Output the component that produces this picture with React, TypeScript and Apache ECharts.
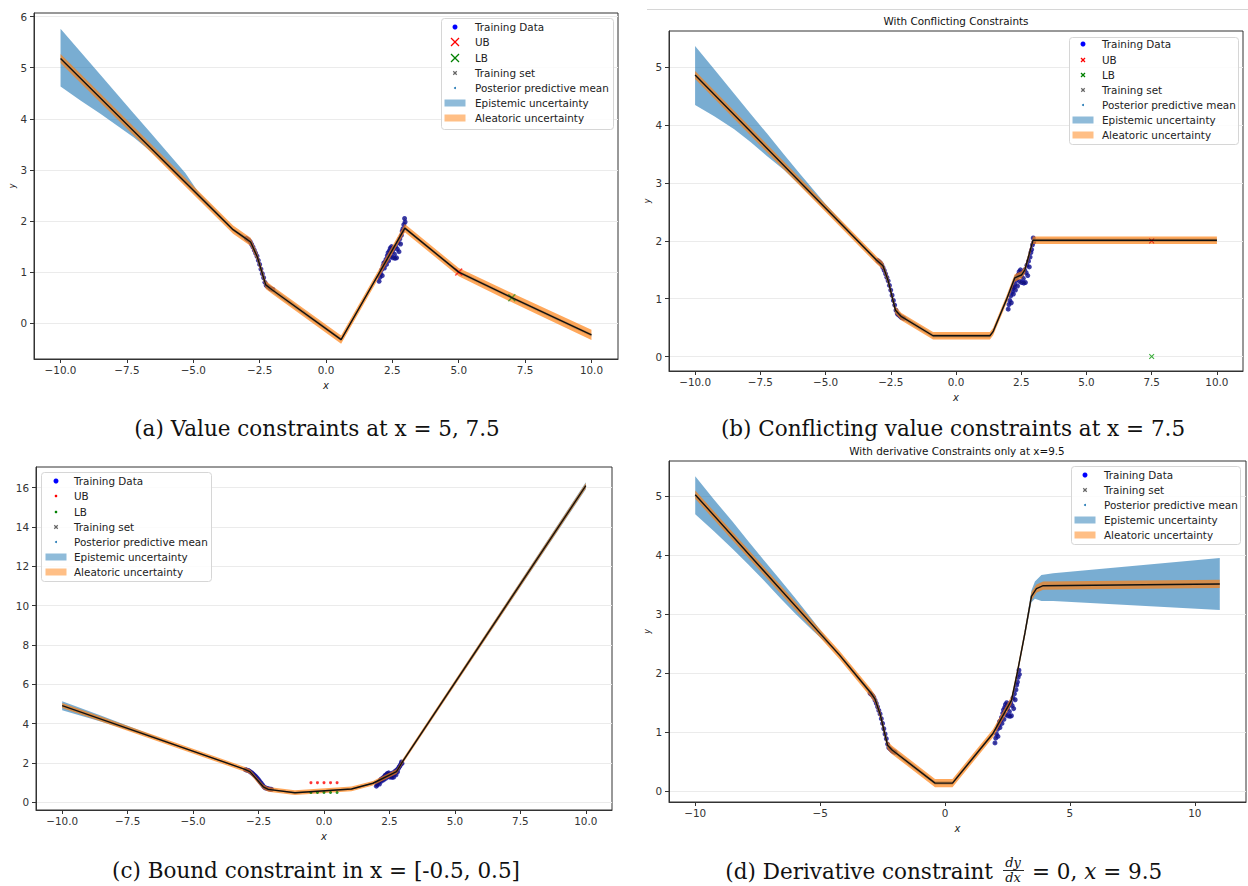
import React, { useEffect, useRef } from 'react';
import * as echarts from 'echarts';

// ---------------- data ----------------
// shared training data
const trainX = [-3.0, -2.95, -2.9, -2.85, -2.8, -2.75, -2.7, -2.65, -2.6, -2.55, -2.5, -2.45, -2.4, -2.35, -2.3, -2.25, -2.2, -2.15, -2.1, -2.05, -2.0,
  2.0, 2.03, 2.06, 2.1, 2.12, 2.15, 2.18, 2.2, 2.23, 2.26, 2.28, 2.31, 2.34, 2.36, 2.39, 2.42, 2.44, 2.47, 2.5, 2.52, 2.55, 2.58, 2.6, 2.63, 2.66, 2.69, 2.72, 2.75, 2.78, 2.81, 2.84, 2.87, 2.9, 2.93, 2.96, 2.98];
const trainY = [1.66, 1.64, 1.62, 1.59, 1.54, 1.49, 1.43, 1.37, 1.31, 1.23, 1.15, 1.06, 0.97, 0.89, 0.8, 0.74, 0.72, 0.7, 0.68, 0.67, 0.66,
  0.82, 0.9, 0.97, 1.05, 0.93, 1.12, 1.18, 1.08, 1.2, 1.25, 1.15, 1.32, 1.38, 1.22, 1.42, 1.47, 1.3, 1.5, 1.4, 1.28, 1.45, 1.35, 1.27, 1.5, 1.28, 1.45, 1.58, 1.4, 1.65, 1.55, 1.72, 1.8, 1.85, 1.93, 2.05, 1.98];

// (a) value constraints
const meanA = [[-10, 5.18], [-3.5, 1.83], [-3.03, 1.66], [-2.84, 1.59], [-2.59, 1.3], [-2.27, 0.75], [-2.02, 0.65], [0.57, -0.32], [2.97, 1.86], [5.0, 1.0], [7.0, 0.5], [10, -0.23]];
const aleaHalfA = [0.09, 0.08, 0.08, 0.08, 0.08, 0.08, 0.08, 0.08, 0.08, 0.08, 0.09, 0.1];
const epiA = [[-10, 4.63, 5.76], [-9.25, 4.36, 5.31], [-8.5, 4.1, 4.86], [-7.875, 3.87, 4.485], [-7.25, 3.64, 4.11], [-6.6, 3.36, 3.72], [-6.0, 3.07, 3.36], [-5.3, 2.72, 2.94], [-4.8, 2.46, 2.56], [-4.0, 2.06, 2.13], [-3.5, 1.8, 1.86], [-3.03, 1.62, 1.7], [-2.84, 1.54, 1.64], [-2.59, 1.24, 1.36], [-2.27, 0.7, 0.8], [-2.02, 0.6, 0.7], [0.57, -0.35, -0.29], [2.97, 1.83, 1.89], [5, 0.97, 1.03], [7, 0.47, 0.53], [10, -0.26, -0.2]];
const ubA = [[5.0, 1.0]];
const lbA = [[7.0, 0.5]];

// (b) conflicting constraints
const meanB = [[-10, 4.87], [-3.05, 1.67], [-2.8, 1.57], [-2.6, 1.31], [-2.32, 0.8], [-2.09, 0.69], [-0.88, 0.36], [1.3, 0.36], [1.42, 0.43], [1.93, 0.98], [2.25, 1.36], [2.51, 1.41], [2.64, 1.5], [2.95, 2.01], [10, 2.01]];
const aleaHalfB = [0.07, 0.065, 0.065, 0.065, 0.065, 0.065, 0.065, 0.065, 0.065, 0.065, 0.065, 0.065, 0.065, 0.065, 0.065];
const epiB = [[-10, 4.35, 5.37], [-9.25, 4.15, 4.96], [-8.5, 3.93, 4.545], [-7.875, 3.71, 4.2], [-7.25, 3.47, 3.86], [-6.6, 3.23, 3.5], [-6, 2.97, 3.17], [-5, 2.53, 2.64], [-4, 2.08, 2.14], [-3.05, 1.64, 1.7], [-2.8, 1.53, 1.61], [-2.6, 1.26, 1.36], [-2.32, 0.76, 0.84], [-2.09, 0.65, 0.73], [-0.88, 0.33, 0.39], [1.3, 0.33, 0.39], [1.42, 0.4, 0.46], [1.93, 0.95, 1.01], [2.25, 1.32, 1.4], [2.51, 1.37, 1.45], [2.64, 1.46, 1.54], [2.95, 1.98, 2.04], [10, 1.98, 2.04]];
const ubB = [[7.5, 2.0]];
const lbB = [[7.5, 0.0]];

// (c) bound constraint
const meanC = [[-10, 4.92], [-3.02, 1.68], [-2.83, 1.56], [-2.32, 0.79], [-2.13, 0.66], [-1.11, 0.49], [1.05, 0.68], [1.87, 0.97], [2.77, 1.56], [3.0, 2.07], [10, 16.1]];
const aleaHalfC = [0.13, 0.12, 0.12, 0.12, 0.12, 0.12, 0.12, 0.12, 0.12, 0.12, 0.14];
const epiC = [[-10, 4.68, 5.14], [-8.5, 4.1, 4.4], [-7, 3.48, 3.64], [-5.5, 2.79, 2.87], [-3.02, 1.65, 1.71], [-2.83, 1.52, 1.6], [-2.32, 0.75, 0.83], [-2.13, 0.62, 0.7], [-1.11, 0.45, 0.53], [1.05, 0.64, 0.72], [1.87, 0.93, 1.01], [2.77, 1.52, 1.6], [3.0, 2.0, 2.14], [10, 15.92, 16.28]];
const ubC = [[-0.5, 1.0], [-0.25, 1.0], [0, 1.0], [0.25, 1.0], [0.5, 1.0]];
const lbC = [[-0.5, 0.5], [-0.25, 0.5], [0, 0.5], [0.25, 0.5], [0.5, 0.5]];

// (d) derivative constraint
const meanD = [[-10, 5.02], [-4.23, 2.31], [-2.96, 1.66], [-2.8, 1.56], [-2.6, 1.31], [-2.3, 0.78], [-2.12, 0.7], [-0.4, 0.14], [0.3, 0.14], [1.92, 0.98], [2.66, 1.54], [2.9, 2.02], [3.2, 2.68], [3.46, 3.3], [3.66, 3.43], [3.93, 3.48], [11, 3.51]];
const aleaHalfD = [0.07, 0.07, 0.07, 0.07, 0.07, 0.07, 0.07, 0.07, 0.07, 0.07, 0.07, 0.07, 0.07, 0.07, 0.07, 0.07, 0.07];
const epiD = [[-10, 4.69, 5.33], [-9.25, 4.4, 4.94], [-8.5, 4.1, 4.56], [-7.875, 3.84, 4.23], [-7.25, 3.57, 3.91], [-6.6, 3.27, 3.58], [-6, 3.01, 3.27], [-5.3, 2.72, 2.9], [-4.6, 2.45, 2.51], [-4.23, 2.28, 2.34], [-2.96, 1.62, 1.7], [-2.8, 1.51, 1.61], [-2.6, 1.26, 1.36], [-2.3, 0.74, 0.82], [-2.12, 0.66, 0.74], [-0.4, 0.11, 0.17], [0.3, 0.11, 0.17], [1.92, 0.95, 1.01], [2.66, 1.51, 1.57], [2.9, 1.98, 2.06], [3.2, 2.62, 2.74], [3.46, 3.2, 3.4], [3.6, 3.26, 3.55], [3.86, 3.22, 3.66], [4.33, 3.22, 3.69], [11, 3.07, 3.95]];

// tick labels
const xTicksABC = [-10, -7.5, -5, -2.5, 0, 2.5, 5, 7.5, 10];
const xTicksD = [-10, -5, 0, 5, 10];
const yTicksA = [0, 1, 2, 3, 4, 5, 6];
const yTicksB = [0, 1, 2, 3, 4, 5];
const yTicksC = [0, 2, 4, 6, 8, 10, 12, 14, 16];
const yTicksD = [0, 1, 2, 3, 4, 5];

// ---------------- styling / helpers ----------------
const FONT = 'DejaVu Sans';
const SERIF = 'DejaVu Serif';
const EPI = 'rgba(31,119,180,0.6)';
const ALEA = 'rgba(255,127,14,0.68)';
const EPI_LEG = 'rgba(31,119,180,0.5)';
const ALEA_LEG = 'rgba(255,127,14,0.5)';
const CROSS = 'path://M0,1.3L1.3,0L5,3.7L8.7,0L10,1.3L6.3,5L10,8.7L8.7,10L5,6.3L1.3,10L0,8.7L3.7,5Z';

const minus = (s: string) => s.replace('-', '\u2212');
const fmt1 = (v: number) => minus(v.toFixed(1));
const fmt0 = (v: number) => minus(String(Math.round(v)));

const trainPts = trainX.map((x, i) => [x, trainY[i]]);
const mkAlea = (mean: number[][], half: number[]) => mean.map((p, i) => [p[0], p[1] - half[i], p[1] + half[i]]);

function bandSeries(gi: number, rows: number[][], color: string, name: string, z: number) {
  return {
    type: 'custom', name, xAxisIndex: gi, yAxisIndex: gi, coordinateSystem: 'cartesian2d',
    data: rows, encode: { x: 0, y: [1, 2] }, clip: true, silent: true, z,
    itemStyle: { color },
    renderItem: (params: any, api: any) => {
      if (params.dataIndex !== 0) return null;
      const pts: number[][] = [];
      for (const r of rows) pts.push(api.coord([r[0], r[2]]));
      for (let i = rows.length - 1; i >= 0; i--) pts.push(api.coord([rows[i][0], rows[i][1]]));
      return { type: 'polygon', shape: { points: pts }, style: { fill: color, stroke: 'none' } };
    },
  };
}

function panelSeries(gi: number, mean: number[][], half: number[], epi: number[][], ub: number[][] | null, lb: number[][] | null, ubStyle: any, lbStyle: any) {
  const s: any[] = [
    { type: 'scatter', name: 'Training Data', xAxisIndex: gi, yAxisIndex: gi, data: trainPts, symbol: 'circle', symbolSize: 5, itemStyle: { color: '#10109a' }, z: 1, silent: true },
    { type: 'scatter', name: 'Training set', xAxisIndex: gi, yAxisIndex: gi, data: trainPts, symbol: CROSS, symbolSize: 3, itemStyle: { color: 'rgba(20,20,60,0.5)' }, z: 1, silent: true },
    bandSeries(gi, epi, EPI, 'Epistemic uncertainty', 2),
    bandSeries(gi, mkAlea(mean, half), ALEA, 'Aleatoric uncertainty', 3),
  ];
  if (ub) s.push({ type: 'scatter', name: 'UB', xAxisIndex: gi, yAxisIndex: gi, data: ub, z: 4, silent: true, ...ubStyle });
  if (lb) s.push({ type: 'scatter', name: 'LB', xAxisIndex: gi, yAxisIndex: gi, data: lb, z: 4, silent: true, ...lbStyle });
  s.push({ type: 'line', name: 'Posterior predictive mean', xAxisIndex: gi, yAxisIndex: gi, data: mean, symbol: 'none', showSymbol: false, lineStyle: { color: '#111', width: 1.4 }, z: 5, silent: true });
  return s;
}

function xAxisCfg(gi: number, min: number, max: number, ticks: number[], f: (v: number) => string) {
  return {
    type: 'value', gridIndex: gi, min, max,
    axisLine: { show: true, onZero: false, lineStyle: { color: '#333', width: 1 } },
    axisTick: { show: true, customValues: ticks, length: 4, lineStyle: { color: '#333', width: 1 } },
    axisLabel: { customValues: ticks, formatter: f, fontSize: 10.4, fontFamily: FONT, color: '#333', margin: 6 },
    splitLine: { show: false },
    name: 'x', nameLocation: 'middle', nameGap: 21,
    nameTextStyle: { fontSize: 10, fontStyle: 'italic', fontFamily: FONT, color: '#222' },
  };
}

function yAxisCfg(gi: number, min: number, max: number, ticks: number[], showName: boolean, gap: number) {
  return {
    type: 'value', gridIndex: gi, min, max,
    axisLine: { show: true, onZero: false, lineStyle: { color: '#333', width: 1 } },
    axisTick: { show: true, customValues: ticks, length: 4, lineStyle: { color: '#333', width: 1 } },
    axisLabel: { customValues: ticks, formatter: fmt0, fontSize: 10.4, fontFamily: FONT, color: '#333', margin: 7 },
    splitLine: { show: true, lineStyle: { color: '#ebebeb', width: 1 } },
    name: showName ? 'y' : '', nameLocation: 'middle', nameGap: gap, nameRotate: 90,
    nameTextStyle: { fontSize: 8, fontStyle: 'italic', fontFamily: FONT, color: '#222' },
  };
}

type LegItem = { label: string; icon: 'dot' | 'cross' | 'patch'; color: string; size: number };

function legend(bx: number, by: number, bw: number, bh: number, rows: number[], iconX: number, textX: number, items: LegItem[]) {
  const ch: any[] = [
    { type: 'rect', shape: { x: bx + 0.5, y: by + 0.5, width: bw, height: bh, r: 3 }, style: { fill: 'rgba(255,255,255,0.85)', stroke: '#d6d6d6', lineWidth: 1 }, z: 100 },
  ];
  items.forEach((it, i) => {
    const cy = rows[i];
    if (it.icon === 'dot') {
      ch.push({ type: 'circle', shape: { cx: iconX, cy, r: it.size }, style: { fill: it.color }, z: 101 });
    } else if (it.icon === 'cross') {
      const s = it.size / 2;
      ch.push({ type: 'line', shape: { x1: iconX - s, y1: cy - s, x2: iconX + s, y2: cy + s }, style: { stroke: it.color, lineWidth: 1.3 }, z: 101 });
      ch.push({ type: 'line', shape: { x1: iconX - s, y1: cy + s, x2: iconX + s, y2: cy - s }, style: { stroke: it.color, lineWidth: 1.3 }, z: 101 });
    } else {
      ch.push({ type: 'rect', shape: { x: iconX - 10.5, y: cy - 3.5, width: 21, height: 7 }, style: { fill: it.color }, z: 101 });
    }
    ch.push({ type: 'text', x: textX, y: cy, z: 101, style: { text: it.label, fill: '#222', fontSize: 10.4, fontFamily: FONT, align: 'left', verticalAlign: 'middle', textAlign: 'left', textVerticalAlign: 'middle' } });
  });
  return ch;
}

function txt(x: number, y: number, text: string, size: number, family: string, align = 'center', extra: any = {}) {
  return { type: 'text', x, y, z: 100, style: { text, fill: '#111', fontSize: size, fontFamily: family, align, verticalAlign: 'middle', textAlign: align, textVerticalAlign: 'middle', ...extra } };
}

export default function App() {
  const ref = useRef<HTMLDivElement>(null);
  useEffect(() => {
    if (!ref.current) return;
    const chart = echarts.init(ref.current, null, { renderer: 'svg' });

    const grids = [
      { left: 34, top: 13, width: 584, height: 346 },
      { left: 669, top: 31, width: 574, height: 340 },
      { left: 36, top: 467, width: 576, height: 343 },
      { left: 669, top: 461, width: 577, height: 341 },
    ].map(g => ({ ...g, show: true, borderColor: '#333', borderWidth: 1, backgroundColor: '#fff', containLabel: false, outerBoundsMode: 'none' }));

    const legA: LegItem[] = [
      { label: 'Training Data', icon: 'dot', color: '#0000ff', size: 2.5 },
      { label: 'UB', icon: 'cross', color: '#ff0000', size: 8 },
      { label: 'LB', icon: 'cross', color: '#008000', size: 8 },
      { label: 'Training set', icon: 'cross', color: '#666', size: 3.5 },
      { label: 'Posterior predictive mean', icon: 'dot', color: '#1f77b4', size: 1 },
      { label: 'Epistemic uncertainty', icon: 'patch', color: EPI_LEG, size: 0 },
      { label: 'Aleatoric uncertainty', icon: 'patch', color: ALEA_LEG, size: 0 },
    ];
    const legB: LegItem[] = [
      { label: 'Training Data', icon: 'dot', color: '#0000ff', size: 2.5 },
      { label: 'UB', icon: 'cross', color: '#ff0000', size: 4 },
      { label: 'LB', icon: 'cross', color: '#008000', size: 4 },
      { label: 'Training set', icon: 'cross', color: '#666', size: 3.5 },
      { label: 'Posterior predictive mean', icon: 'dot', color: '#1f77b4', size: 1 },
      { label: 'Epistemic uncertainty', icon: 'patch', color: EPI_LEG, size: 0 },
      { label: 'Aleatoric uncertainty', icon: 'patch', color: ALEA_LEG, size: 0 },
    ];
    const legC: LegItem[] = [
      { label: 'Training Data', icon: 'dot', color: '#0000ff', size: 2.5 },
      { label: 'UB', icon: 'dot', color: '#ff0000', size: 1.3 },
      { label: 'LB', icon: 'dot', color: '#008000', size: 1.3 },
      { label: 'Training set', icon: 'cross', color: '#666', size: 3.5 },
      { label: 'Posterior predictive mean', icon: 'dot', color: '#1f77b4', size: 1 },
      { label: 'Epistemic uncertainty', icon: 'patch', color: EPI_LEG, size: 0 },
      { label: 'Aleatoric uncertainty', icon: 'patch', color: ALEA_LEG, size: 0 },
    ];
    const legD: LegItem[] = [
      { label: 'Training Data', icon: 'dot', color: '#0000ff', size: 2.5 },
      { label: 'Training set', icon: 'cross', color: '#666', size: 3.5 },
      { label: 'Posterior predictive mean', icon: 'dot', color: '#1f77b4', size: 1 },
      { label: 'Epistemic uncertainty', icon: 'patch', color: EPI_LEG, size: 0 },
      { label: 'Aleatoric uncertainty', icon: 'patch', color: ALEA_LEG, size: 0 },
    ];

    const graphics: any[] = [
      { type: 'line', shape: { x1: 647, y1: 9.5, x2: 1248, y2: 9.5 }, style: { stroke: '#d6d6d6', lineWidth: 1 } },
      ...legend(441, 18, 172, 111, [27, 42, 58, 73, 88, 103, 118], 455, 475, legA),
      ...legend(1069, 37, 169, 107, [44, 60, 75, 90, 105, 120, 135], 1083, 1102, legB),
      ...legend(41, 472, 170, 109, [481, 496, 512, 527, 542, 557, 572], 56, 74, legC),
      ...legend(1071, 466, 169, 78, [475, 490, 505, 520, 535], 1085, 1104, legD),
      txt(956, 21, 'With Conflicting Constraints', 10.4, FONT),
      txt(957, 451, 'With derivative Constraints only at x=9.5', 10.4, FONT),
      txt(317, 428, '(a) Value constraints at x = 5, 7.5', 21.5, SERIF),
      txt(953, 428, '(b) Conflicting value constraints at x = 7.5', 21.5, SERIF),
      txt(316, 870, '(c) Bound constraint in x = [-0.5, 0.5]', 21.5, SERIF),
      txt(993, 871, '(d) Derivative constraint', 21.5, SERIF, 'right'),
      txt(1013, 862, 'dy', 13, SERIF, 'center', { fontStyle: 'italic' }),
      { type: 'line', shape: { x1: 1003, y1: 870.5, x2: 1024, y2: 870.5 }, style: { stroke: '#111', lineWidth: 0.9 }, z: 100 },
      txt(1013, 877, 'dx', 13, SERIF, 'center', { fontStyle: 'italic' }),
      txt(1032, 871, '= 0, {i|x} = 9.5', 21.5, SERIF, 'left', { rich: { i: { fontStyle: 'italic', fontSize: 21.5, fontFamily: SERIF, fill: '#111' } } }),
    ];

    const redX = { symbol: CROSS, symbolSize: 8, itemStyle: { color: 'rgba(255,0,0,0.85)' } };
    const greenX = { symbol: CROSS, symbolSize: 8, itemStyle: { color: 'rgba(0,128,0,0.75)' } };
    const redXs = { symbol: CROSS, symbolSize: 5.5, itemStyle: { color: '#e00000' } };
    const greenXs = { symbol: CROSS, symbolSize: 5.5, itemStyle: { color: '#0a9a0a' } };
    const redDot = { symbol: 'circle', symbolSize: 3, itemStyle: { color: '#ff0000' } };
    const greenDot = { symbol: 'circle', symbolSize: 3, itemStyle: { color: '#008000' } };

    chart.setOption({
      animation: false,
      backgroundColor: '#ffffff',
      grid: grids,
      xAxis: [
        xAxisCfg(0, -11, 11, xTicksABC, fmt1),
        xAxisCfg(1, -11, 11, xTicksABC, fmt1),
        xAxisCfg(2, -11, 11, xTicksABC, fmt1),
        xAxisCfg(3, -11.05, 12.05, xTicksD, fmt0),
      ],
      yAxis: [
        yAxisCfg(0, -0.7, 6.07, yTicksA, true, 15),
        yAxisCfg(1, -0.25, 5.63, yTicksB, true, 15),
        yAxisCfg(2, -0.39, 17.05, yTicksC, false, 15),
        yAxisCfg(3, -0.18, 5.59, yTicksD, true, 16),
      ],
      series: [
        ...panelSeries(0, meanA, aleaHalfA, epiA, ubA, lbA, redX, greenX),
        ...panelSeries(1, meanB, aleaHalfB, epiB, ubB, lbB, redXs, greenXs),
        ...panelSeries(2, meanC, aleaHalfC, epiC, ubC, lbC, redDot, greenDot),
        ...panelSeries(3, meanD, aleaHalfD, epiD, null, null, null, null),
      ],
      graphic: { elements: graphics },
    });
    return () => chart.dispose();
  }, []);
  return <div ref={ref} style={{ position: 'absolute', left: 0, top: 0, width: 1248, height: 886, background: '#fff' }} />;
}
